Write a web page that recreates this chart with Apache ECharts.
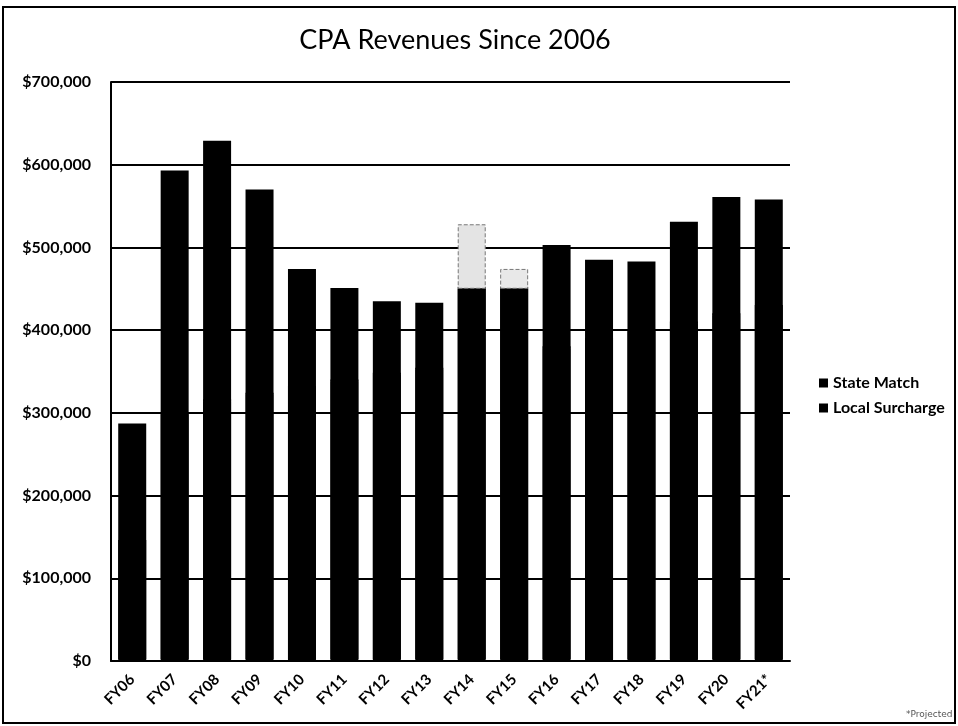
<!DOCTYPE html>
<html>
<head>
<meta charset="utf-8">
<script src="https://cdn.jsdelivr.net/npm/echarts@6/dist/echarts.min.js"></script>
<style>
  html, body { margin: 0; padding: 0; background: #fff; }
  #frame { position: absolute; left: 2px; top: 6px; width: 950px; height: 714px; border: 2px solid #000; }
  #chart { position: absolute; left: 0; top: 0; width: 958px; height: 726px; }
  #note { position: absolute; left: 906px; top: 709px; font: 9px "DejaVu Sans"; color: #555; }
</style>
</head>
<body>
<div id="frame"></div>
<div id="chart"></div>
<div id="note">*Projected</div>
<script>
var years = ["FY06", "FY07", "FY08", "FY09", "FY10", "FY11", "FY12", "FY13",
             "FY14", "FY15", "FY16", "FY17", "FY18", "FY19", "FY20", "FY21*"];
// bottom segment
var localSurcharge = [144000, 298000, 314000, 322000, 330000, 338000, 346000, 352000,
                      450000, 450000, 378000, 388000, 398000, 408000, 418000, 428000];
// top segment
var stateMatch = [143000, 295000, 315000, 248000, 144000, 113000, 89000, 81000,
                  78000, 24000, 125000, 97000, 85000, 123000, 143000, 130000];
var yTicks = [0, 100000, 200000, 300000, 400000, 500000, 600000, 700000];

// scanned copy shows these top segments washed out
var faded = { "FY14": "#e4e4e4", "FY15": "#e8e8e8" };

var chart = echarts.init(document.getElementById("chart"));

var stateData = stateMatch.map(function (v, i) {
  if (faded[years[i]]) {
    return { value: v, itemStyle: { color: faded[years[i]], borderColor: "#777", borderType: "dashed", borderWidth: 1 } };
  }
  return v;
});

chart.setOption({
  animation: false,
  title: {
    text: "CPA Revenues Since 2006",
    left: 450,
    textAlign: "center",
    top: 22,
    textStyle: { fontFamily: "Lato", fontSize: 27, fontWeight: "normal", color: "#000" }
  },
  legend: {
    orient: "vertical",
    left: 814,
    top: 370,
    itemWidth: 9,
    itemHeight: 9,
    itemGap: 9,
    icon: "rect",
    data: ["State Match", "Local Surcharge"],
    itemStyle: { shadowOffsetY: 0 },
    textStyle: { fontFamily: "Lato", fontSize: 16, fontWeight: "bold", color: "#000" }
  },
  grid: { left: 111, right: 168, top: 82, bottom: 65 },
  xAxis: {
    type: "category",
    data: years,
    axisLine: { lineStyle: { color: "#000", width: 2 } },
    axisTick: { show: false },
    axisLabel: {
      rotate: 45,
      interval: 0,
      margin: 16,
      fontFamily: "Lato",
      fontSize: 15,
      fontWeight: "bold",
      color: "#000"
    }
  },
  yAxis: {
    type: "value",
    min: yTicks[0],
    max: yTicks[yTicks.length - 1],
    interval: 100000,
    axisLine: { show: true, lineStyle: { color: "#000", width: 2 } },
    axisTick: { show: false },
    splitLine: { lineStyle: { color: "#000", width: 2 } },
    axisLabel: {
      margin: 20,
      fontFamily: "Lato",
      fontSize: 16,
      fontWeight: "bold",
      color: "#000",
      formatter: function (v) { return "$" + v.toLocaleString("en-US"); }
    }
  },
  series: [
    {
      name: "Local Surcharge",
      type: "bar",
      stack: "rev",
      barWidth: 28,
      // shadow pushed upward hides the hairline seam between stacked segments
      itemStyle: { color: "#000", shadowColor: "#000", shadowBlur: 0, shadowOffsetY: -2 },
      data: localSurcharge
    },
    {
      name: "State Match",
      type: "bar",
      stack: "rev",
      barWidth: 28,
      itemStyle: { color: "#000" },
      data: stateData
    }
  ]
});
</script>
</body>
</html>
